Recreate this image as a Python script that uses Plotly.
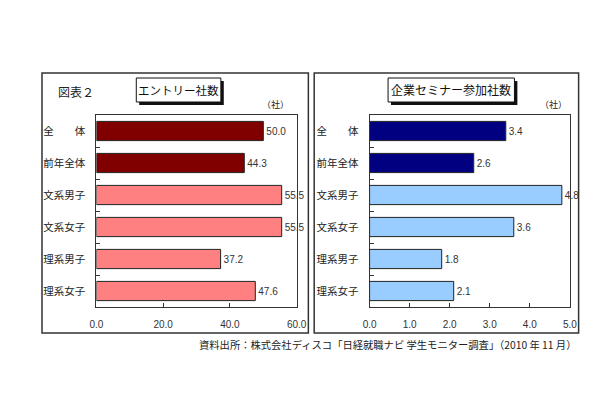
import plotly.graph_objects as go

categories = ["全　　体", "前年全体", "文系男子", "文系女子", "理系男子", "理系女子"]
entry_values = [50.0, 44.3, 55.5, 55.5, 37.2, 47.6]
seminar_values = [3.4, 2.6, 4.8, 3.6, 1.8, 2.1]
entry_colors = ["#800000", "#800000", "#FF8080", "#FF8080", "#FF8080", "#FF8080"]
seminar_colors = ["#000080", "#000080", "#99CCFF", "#99CCFF", "#99CCFF", "#99CCFF"]
entry_ticks = [0, 20, 40, 60]
seminar_ticks = [0, 1, 2, 3, 4, 5]

W, H = 610, 400
def px(x): return x / W
def py(y): return 1 - y / H

JP = "Noto Sans CJK JP"
NUM = "Liberation Sans"

fig = go.Figure()
fig.add_trace(go.Bar(
    y=categories, x=entry_values, orientation="h",
    marker=dict(color=entry_colors, line=dict(color="#222222", width=1)),
    text=[f"{v:.1f}" for v in entry_values], textposition="outside",
    textfont=dict(family=NUM, size=10, color="#333333"), cliponaxis=False,
    width=0.6, xaxis="x", yaxis="y", showlegend=False))
fig.add_trace(go.Bar(
    y=categories, x=seminar_values, orientation="h",
    marker=dict(color=seminar_colors, line=dict(color="#222222", width=1)),
    text=[f"{v:.1f}" for v in seminar_values], textposition="outside",
    textfont=dict(family=NUM, size=10, color="#333333"), cliponaxis=False,
    width=0.6, xaxis="x2", yaxis="y2", showlegend=False))

ydom = [py(307), py(115)]
common_x = dict(showgrid=False, zeroline=False, showline=True, linecolor="#333333",
                linewidth=1, mirror=True, ticks="inside", ticklen=4, tickcolor="#333333",
                tickformat=".1f", tickfont=dict(family=NUM, size=10, color="#333333"),
                ticklabelstandoff=8)
common_y = dict(showgrid=False, showline=True, linecolor="#333333", linewidth=1,
                mirror=True, ticks="inside", ticklen=4, tickcolor="#333333",
                tickson="boundaries", autorange="reversed", categoryorder="array",
                categoryarray=categories,
                tickfont=dict(family=JP, size=10.5, color="#222222"), ticklabelstandoff=8)

fig.update_layout(
    width=W, height=H, autosize=False, margin=dict(l=0, r=0, t=0, b=0, pad=0),
    paper_bgcolor="white", plot_bgcolor="white", bargap=0.4,
    xaxis=dict(domain=[px(92), px(298)], range=[0, 60], tickvals=entry_ticks, anchor="y", **common_x),
    yaxis=dict(domain=ydom, anchor="x", **common_y),
    xaxis2=dict(domain=[px(373), px(579)], range=[0, 5], tickvals=seminar_ticks, anchor="y2", **common_x),
    yaxis2=dict(domain=ydom, anchor="x2", **common_y),
)

shapes = []
for x0, x1 in [(36, 310), (316, 588)]:
    shapes.append(dict(type="rect", xref="paper", yref="paper", x0=px(x0), x1=px(x1),
                       y0=py(333), y1=py(73), line=dict(color="#333333", width=1.5)))
for x0, x1 in [(133, 220), (392, 522)]:
    shapes.append(dict(type="rect", xref="paper", yref="paper", x0=px(x0 + 3), x1=px(x1 + 3),
                       y0=py(105), y1=py(81), fillcolor="#111111", line=dict(width=0)))
    shapes.append(dict(type="rect", xref="paper", yref="paper", x0=px(x0), x1=px(x1),
                       y0=py(102), y1=py(78), fillcolor="white", line=dict(color="#111111", width=1)))
fig.update_layout(shapes=shapes)

ann = [
    dict(text="図表２", x=px(50), y=py(91), xanchor="left", font=dict(family=JP, size=12, color="#222222")),
    dict(text="エントリー社数", x=px(176.5), y=py(90), xanchor="center", font=dict(family=JP, size=11.5, color="#111111")),
    dict(text="企業セミナー参加社数", x=px(457), y=py(90), xanchor="center", font=dict(family=JP, size=12, color="#111111")),
    dict(text="（社）", x=px(292), y=py(105), xanchor="right", font=dict(family=JP, size=9, color="#222222")),
    dict(text="（社）", x=px(578), y=py(104), xanchor="right", font=dict(family=JP, size=9, color="#222222")),
    dict(text="資料出所：株式会社ディスコ「日経就職ナビ 学生モニター調査」（2010 年 11 月）", x=px(587), y=py(344),
         xanchor="right", font=dict(family=JP, size=10.3, color="#222222")),
]
for a in ann:
    a.update(xref="paper", yref="paper", yanchor="middle", showarrow=False)
fig.update_layout(annotations=ann)

fig.write_html("out.html", config={"displayModeBar": False, "responsive": False},
               default_width="610px", default_height="400px",
               post_script="document.body.style.margin='0';document.body.style.overflow='hidden';")
